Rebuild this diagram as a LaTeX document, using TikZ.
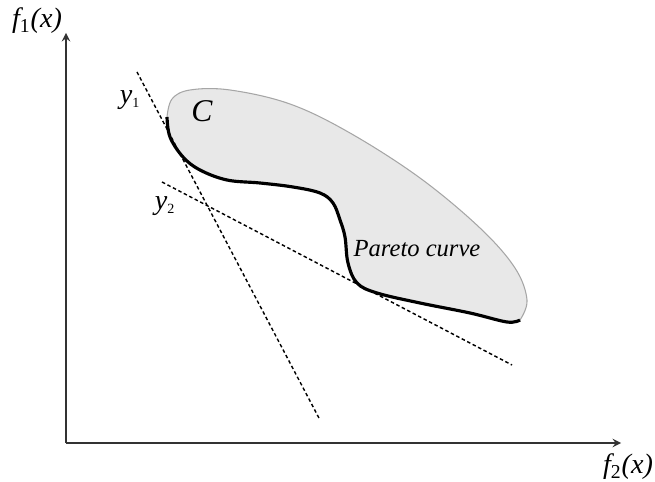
\documentclass[tikz,border=0pt]{standalone}
\usepackage{fontspec}
\setmainfont{Liberation Serif}
\usepackage{tikz}
\usetikzlibrary{arrows,positioning,calc}

\begin{document}
\begin{tikzpicture}[x=0.02cm,y=-0.02cm,>=stealth,
    axis/.style={->,line width=1.1pt,black!80},
    tangent/.style={line width=0.8pt,dash pattern=on 2pt off 1.5pt},
    lbl/.style={font=\fontsize{16}{18}\selectfont\itshape}]
  \useasboundingbox (0,0) rectangle (655,482);

  \coordinate (O) at (66,443);
  \coordinate (ytip) at (66,33);
  \coordinate (xtip) at (621,443);

  \fill[gray!18] plot[smooth,tension=0.6] coordinates {(167,117) (170,137) (183,157) (200,170) (227,180) (260,183) (293,187) (320,193) (333,203) (340,220) (345,237) (348,263) (357,283) (377,293) (420,303) (470,313) (507,322) (520,320)}
    -- plot[smooth,tension=0.6] coordinates {(520,320) (527,300) (515,268) (480,228) (420,178) (350,133) (290,104) (230,90) (190,90) (172,99) (167,117)} -- cycle;
  \draw[gray!70,line width=0.6pt] plot[smooth,tension=0.6] coordinates {(520,320) (527,300) (515,268) (480,228) (420,178) (350,133) (290,104) (230,90) (190,90) (172,99) (167,117)};
  \draw[line width=1.8pt] plot[smooth,tension=0.6] coordinates {(167,117) (170,137) (183,157) (200,170) (227,180) (260,183) (293,187) (320,193) (333,203) (340,220) (345,237) (348,263) (357,283) (377,293) (420,303) (470,313) (507,322) (520,320)};

  \coordinate (y1a) at (137,72);
  \coordinate (y1b) at (320,420);
  \coordinate (y2a) at (162,182);
  \coordinate (y2b) at (512,365);
  \draw[tangent] (y1a) -- (y1b);
  \draw[tangent] (y2a) -- (y2b);

  \draw[axis] (O) -- (ytip);
  \draw[axis] (O) -- (xtip);

  \node[lbl] (f1) at (37,21) {f\textsubscript{\upshape 1}(x)};
  \node[lbl] (f2) at (628,467) {f\textsubscript{\upshape 2}(x)};
  \node[lbl] (y1) at (130,100) {y\textsubscript{\upshape\footnotesize 1}};
  \node[lbl] (y2) at (165,206) {y\textsubscript{\upshape\footnotesize 2}};
  \node[lbl,font=\fontsize{18}{20}\selectfont\itshape] (C) at (202,111) {C};
  \node[lbl,font=\fontsize{14}{16}\selectfont\itshape] (pareto) at (417,249) {Pareto curve};
\end{tikzpicture}
\end{document}
